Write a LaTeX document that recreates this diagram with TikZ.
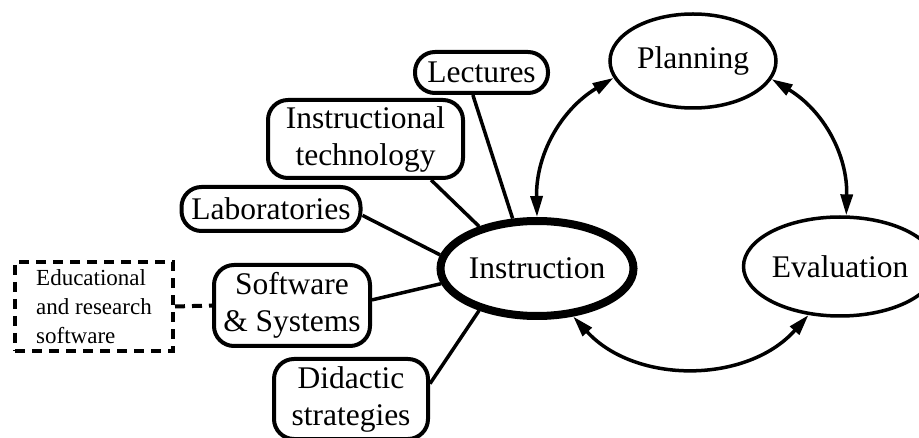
\documentclass[tikz,border=0pt]{standalone}
\usepackage{fontspec}
\setmainfont{Liberation Serif}
\usetikzlibrary{shapes.geometric,arrows.meta}
\begin{document}
\begin{tikzpicture}[x=1pt,y=1pt,
  big/.style={font=\fontsize{31.5}{37}\selectfont},
  topic/.style={draw, line width=4pt, rounded corners=20pt, align=center,
    inner sep=0pt, big},
  phase/.style={draw, ellipse, line width=3.5pt, inner sep=0pt, big},
  link/.style={line width=3.5pt},
  cycle/.style={line width=3.5pt, {Triangle[length=21pt,width=12pt]}-{Triangle[length=21pt,width=12pt]}},
  extra/.style={draw, dash pattern=on 10pt off 7pt, line width=4pt,
    align=left, inner sep=0pt, font=\fontsize{23}{29}\selectfont}
]
\useasboundingbox (0,0) rectangle (919,-438);

% the three phases
\node[phase, line width=8pt, minimum width=162pt, minimum height=95pt] (inst) at (537,-268.5) {Instruction};
\node[phase, minimum width=166pt, minimum height=94pt] (plan) at (693,-61) {Planning};
\node[phase, minimum width=166pt, minimum height=99pt] (eval) at (840,-266.5) {Evaluation};

% components of instruction
\node[topic, minimum width=133pt, minimum height=41pt] (lect) at (481.5,-72.5) {Lectures};
\node[topic, minimum width=195pt, minimum height=78pt] (itech) at (365.5,-139) {Instructional\\technology};
\node[topic, minimum width=179pt, minimum height=44pt] (lab) at (271,-209) {Laboratories};
\node[topic, minimum width=156pt, minimum height=81pt] (soft) at (292,-305.5) {Software\\\& Systems};
\node[topic, minimum width=154pt, minimum height=80pt] (did) at (351,-399) {Didactic\\strategies};

\node[extra, minimum width=158pt, minimum height=89pt] (edu) at (94,-306.5)
  {Educational\\and research\\software};

% spokes
\draw[link] (lect.249) -- (inst.116);
\draw[link] (itech.328) -- (inst.144);
\draw[link] (lab.-4) -- (inst.172.5);
\draw[link] (soft.4) -- (inst.189);
\draw[link] (did.11) -- (inst.216);
\draw[line width=4pt, dash pattern=on 10pt off 7pt] (edu.east) -- (soft.west);

% the cycle
\draw[cycle] (inst.north) to[bend left=30] (plan.192);
\draw[cycle] (plan.347) to[bend left=30] (eval.83);
\draw[cycle] (eval.237) to[bend left=48] (inst.307);
\end{tikzpicture}
\end{document}
